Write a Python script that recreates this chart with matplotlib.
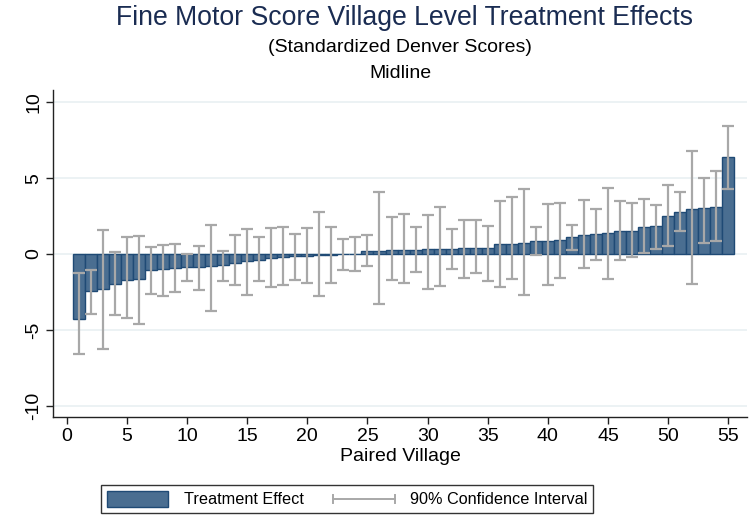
import matplotlib
matplotlib.use("Agg")
import matplotlib.pyplot as plt
from matplotlib.patches import Patch
from matplotlib.lines import Line2D
from matplotlib.legend_handler import HandlerBase
import numpy as np

plt.rcParams['font.family'] = ['Liberation Sans', 'DejaVu Sans']

villages = list(range(1, 56))
effects = [-4.31, -2.46, -2.28, -2.00, -1.74, -1.67, -1.08, -1.01, -0.90, -0.86,
           -0.84, -0.79, -0.75, -0.60, -0.46, -0.37, -0.29, -0.22, -0.15, -0.10,
           -0.07, -0.05, -0.03, 0.02, 0.22, 0.23, 0.27, 0.27, 0.29, 0.33,
           0.35, 0.35, 0.40, 0.42, 0.42, 0.64, 0.68, 0.70, 0.88, 0.88,
           0.90, 1.10, 1.23, 1.34, 1.41, 1.54, 1.54, 1.76, 1.83, 2.48,
           2.79, 2.94, 3.03, 3.12, 6.37]
ci_upper = [-1.25, -1.03, 1.60, 0.13, 1.14, 1.19, 0.44, 0.57, 0.66, 0.00,
            0.55, 1.89, 0.22, 1.23, 1.67, 1.14, 1.69, 1.78, 1.34, 1.71,
            2.79, 1.78, 1.01, 1.10, 1.25, 4.07, 2.46, 2.61, 1.80, 2.57,
            3.10, 1.65, 2.22, 2.24, 1.87, 3.47, 3.78, 4.26, 1.78, 3.27,
            3.34, 1.93, 3.54, 2.94, 4.37, 3.47, 3.34, 3.63, 3.21, 4.55,
            4.07, 6.79, 5.01, 5.49, 8.44]
ci_lower = [-6.59, -3.96, -6.24, -4.04, -4.22, -4.64, -2.61, -2.79, -2.53, -1.76,
            -2.40, -3.74, -1.76, -2.02, -2.68, -1.78, -2.20, -2.07, -1.71, -1.91,
            -2.77, -1.91, -1.03, -1.10, -0.77, -3.32, -1.74, -1.89, -1.17, -2.33,
            -2.09, -0.99, -1.60, -1.25, -1.76, -2.15, -1.67, -2.68, -0.04, -2.02,
            -1.58, 0.26, -0.90, -0.37, -1.65, -0.42, -0.20, 0.07, 0.35, 0.53,
            1.52, -1.98, 0.75, 0.88, 4.26]

xticks = [0, 5, 10, 15, 20, 25, 30, 35, 40, 45, 50, 55]
yticks = [-10, -5, 0, 5, 10]

bar_fill = '#4a6e91'
bar_edge = '#1f4a75'
ci_color = '#a8a8a8'
title_color = '#1a2c52'


class CIHandler(HandlerBase):
    def create_artists(self, legend, orig_handle, xdescent, ydescent,
                       width, height, fontsize, trans):
        y = height / 2 - ydescent
        x0 = -xdescent
        x1 = width - xdescent
        h = height * 0.22
        kw = dict(color=ci_color, linewidth=1.4, transform=trans)
        return [Line2D([x0, x1], [y, y], **kw),
                Line2D([x0, x0], [y - h, y + h], **kw),
                Line2D([x1, x1], [y - h, y + h], **kw)]


fig = plt.figure(figsize=(7.54, 5.18), dpi=100)
ax = fig.add_axes([53.5/754, 1-417.3/518, (747-53.5)/754, (417.3-90)/518])

ax.bar(villages, effects, width=1.0, color=bar_fill, edgecolor=bar_edge,
       linewidth=1.0, zorder=2)
x = np.array(villages)
lo = np.array(ci_lower)
hi = np.array(ci_upper)
ax.errorbar(x, (lo+hi)/2, yerr=(hi-lo)/2, fmt='none', ecolor=ci_color,
            elinewidth=1.6, capsize=4, capthick=1.6, zorder=3)

ax.set_xlim(-1.1, 56.55)
ax.set_ylim(-10.76, 10.81)
ax.set_xticks(xticks)
ax.set_yticks(yticks)
ax.set_yticklabels([str(v) for v in yticks], rotation=90, va='center')
ax.tick_params(axis='both', labelsize=14, length=5, width=1.0, color='#222222', pad=3)
for s in ['top', 'right']:
    ax.spines[s].set_visible(False)
for s in ['left', 'bottom']:
    ax.spines[s].set_color('#222222')
    ax.spines[s].set_linewidth(1.0)
ax.grid(axis='y', color='#e9f0f2', linewidth=1.2, zorder=0)
ax.set_axisbelow(True)
ax.set_xlabel('Paired Village', fontsize=14, labelpad=2)

fig.text(405/754, 1-18/518, 'Fine Motor Score Village Level Treatment Effects',
         ha='center', va='center', fontsize=19.2, color=title_color)
fig.text(400/754, 1-48/518, '(Standardized Denver Scores)', ha='center', va='center',
         fontsize=14, color='black')
fig.text(400/754, 1-74/518, 'Midline', ha='center', va='center',
         fontsize=14, color='black')

ci_handle = Line2D([0], [0], color=ci_color)
handles = [Patch(facecolor=bar_fill, edgecolor=bar_edge, linewidth=1.0), ci_handle]
leg = fig.legend(handles, ['Treatment Effect', '90% Confidence Interval'],
                 loc='center', bbox_to_anchor=(347/754, 1-499/518), ncol=2,
                 fontsize=11.7, frameon=True, fancybox=False, edgecolor='black',
                 handlelength=3.8, handleheight=1.2, columnspacing=1.8,
                 handletextpad=0.95, borderpad=0.35, borderaxespad=0,
                 handler_map={ci_handle: CIHandler()})
leg.get_frame().set_linewidth(1.0)

fig.savefig('out.png', dpi=100)
